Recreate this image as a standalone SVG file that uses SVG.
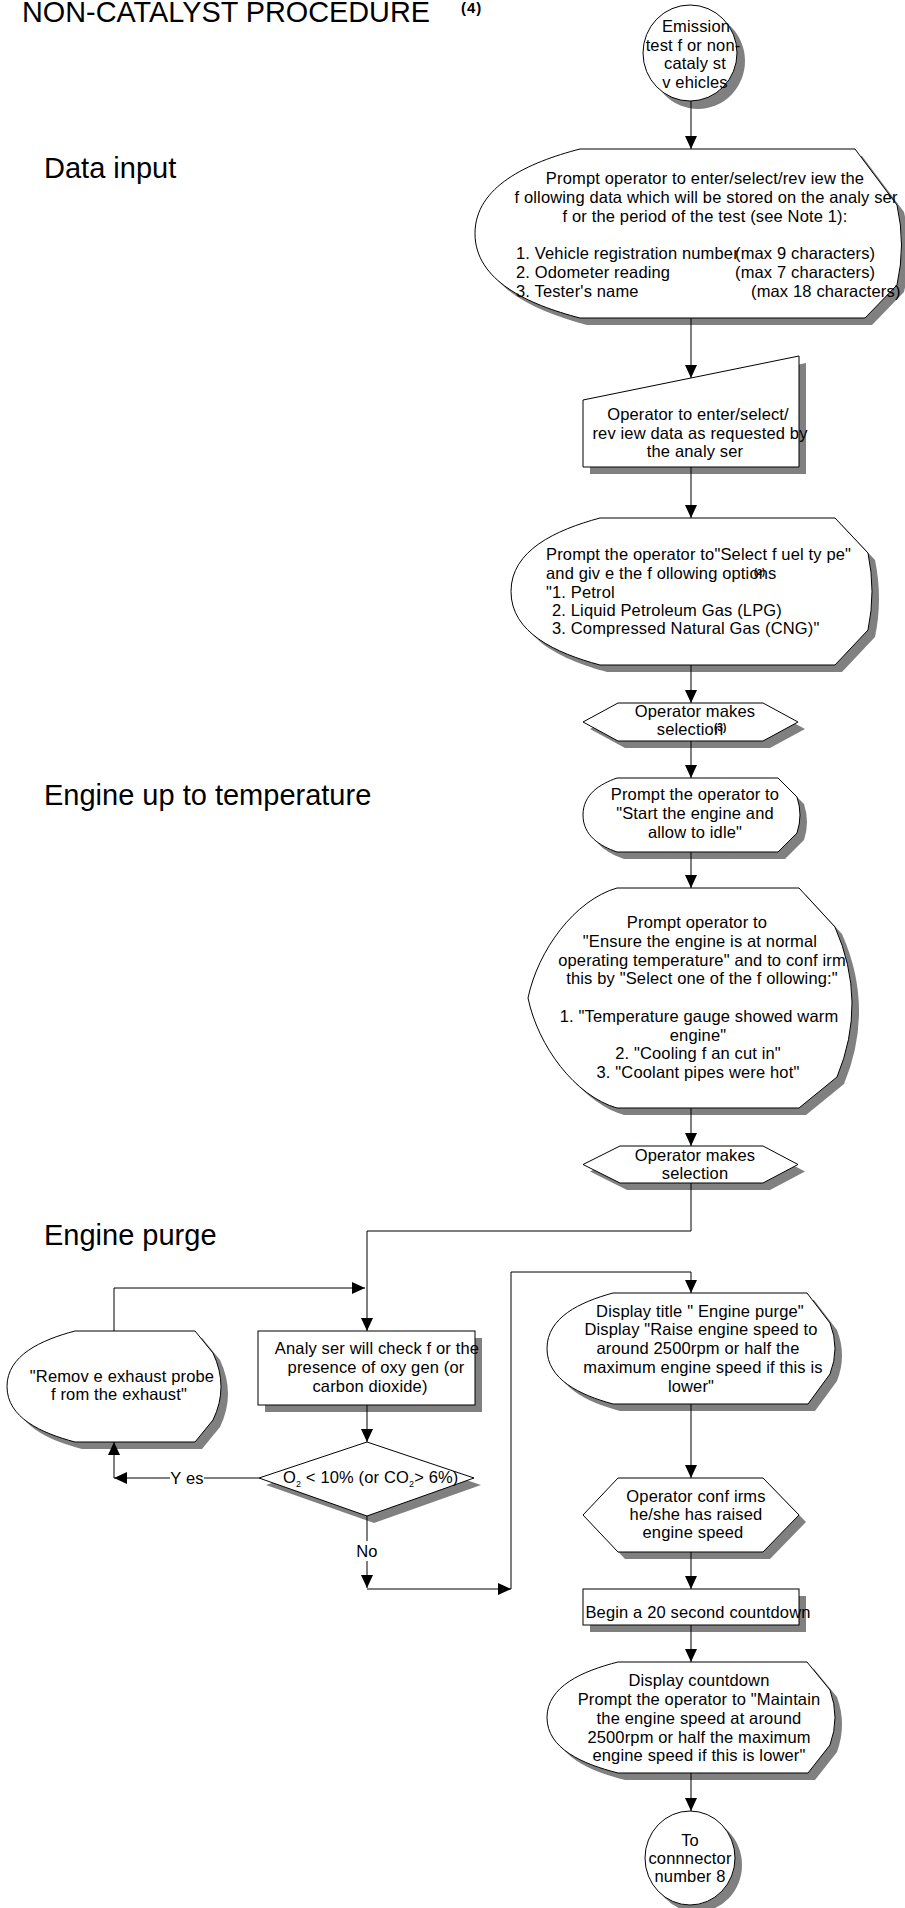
<svg xmlns="http://www.w3.org/2000/svg" width="905" height="1908" viewBox="0 0 905 1908">
  <style>
    .t { font-family: "Liberation Sans", Arial, sans-serif; font-size: 16.5px; letter-spacing: 0.15px; fill: #000; }
    .c { text-anchor: middle; }
    .head { font-family: "Liberation Sans", Arial, sans-serif; font-size: 29px; fill: #000; }
    .sup { font-family: "Liberation Sans", Arial, sans-serif; font-size: 9px; font-weight: bold; fill: #000; }
    .shape { fill: #fff; stroke: #000; stroke-width: 1; }
    .shadow { fill: #808080; stroke: none; }
    .conn { fill: none; stroke: #000; stroke-width: 1; }
    .lbl-bg { fill: #fff; }
  </style>
  <defs>
    <marker id="arrow" markerWidth="13" markerHeight="12" refX="13" refY="6" orient="auto" markerUnits="userSpaceOnUse">
      <path d="M0,0 L13,6 L0,12 Z" fill="#000"/>
    </marker>
    <!-- shape outlines, each drawn twice: a grey offset shadow and the white body -->
    <ellipse id="s-start" cx="690" cy="53" rx="47" ry="48"/>
    <path id="s-data" d="M580,149 L855,149 L897,205 Q906,245 897,285 L865,318 L580,318 C528,304.5 475,280.5 475,233.5 C475,186.5 528,162.5 580,149 Z"/>
    <path id="s-manual" d="M583,400 L799,356 L799,467 L583,467 Z"/>
    <path id="s-fuel" d="M600,518 L835,518 L868,553 Q876,591.5 868,630 L835,665 L600,665 C555.5,653 511,632.5 511,591.5 C511,550.5 555.5,530 600,518 Z"/>
    <path id="s-sel1" d="M618,703 L763,703 L798,722 L763,741 L618,741 L583,722 Z"/>
    <path id="s-start-eng" d="M617,778 L778,778 L797,797 Q803,815 797,833 L778,852 L617,852 C600,846 583,835.7 583,815 C583,794.3 600,784 617,778 Z"/>
    <path id="s-temp" d="M617,888 L799,888 L835,927 Q868,1002 837,1077 L799,1108 L617,1108 C575,1096 538,1046 528,998 C538,950 575,900 617,888 Z"/>
    <path id="s-sel2" d="M620,1146 L763,1146 L798,1164.5 L763,1183 L620,1183 L583,1164.5 Z"/>
    <rect id="s-check" x="258" y="1331" width="217" height="74"/>
    <path id="s-o2" d="M367,1442 L474,1478 L367,1516 L259,1478 Z"/>
    <path id="s-remove" d="M75,1331 L195,1331 L213,1353 Q229,1387 213,1420 L195,1442 L75,1442 C41,1433 7,1417.6 7,1386.5 C7,1355.4 41,1340 75,1331 Z"/>
    <path id="s-purge" d="M613,1293 L807,1293 L830,1323 Q840,1348.5 830,1374 L808,1404 L613,1404 C580,1395 547,1379.6 547,1348.5 C547,1317.4 580,1302 613,1293 Z"/>
    <path id="s-confirm" d="M618,1478 L763,1478 L799,1515 L763,1552 L618,1552 L583,1515 Z"/>
    <rect id="s-count" x="583" y="1589" width="216" height="36"/>
    <path id="s-maintain" d="M618,1662 L807,1662 L830,1690 Q840,1717.5 830,1745 L808,1773 L618,1773 C582.5,1764 547,1748.6 547,1717.5 C547,1686.4 582.5,1671 618,1662 Z"/>
    <ellipse id="s-end" cx="690" cy="1858" rx="45" ry="47"/>
  </defs>

  <!-- headings -->
  <g id="headings">
    <text class="head" x="22" y="22" style="font-size:30px" textLength="408" lengthAdjust="spacingAndGlyphs">NON-CATALYST PROCEDURE</text>
    <text class="sup" x="461" y="13" style="font-size:15px;letter-spacing:1px">(4)</text>
    <text class="head" x="44" y="178">Data input</text>
    <text class="head" x="44" y="805">Engine up to temperature</text>
    <text class="head" x="44" y="1245">Engine purge</text>
  </g>

  <g id="node-start">
    <use href="#s-start" class="shadow" transform="translate(8,8)"/>
    <use href="#s-start" class="shape"/>
    <text class="t c"><tspan x="696" y="32">Emission</tspan><tspan x="693" y="51">test f or non-</tspan><tspan x="695" y="69">cataly st</tspan><tspan x="695" y="88">v ehicles</tspan></text>
  </g>

  <g id="node-data-prompt">
    <use href="#s-data" class="shadow" transform="translate(7,7)"/>
    <use href="#s-data" class="shape"/>
    <text class="t c"><tspan x="705" y="184">Prompt operator to enter/select/rev iew the</tspan><tspan x="706" y="203">f ollowing data which will be stored on the analy ser</tspan><tspan x="705" y="222">f or the period of the test (see Note 1):</tspan></text>
    <text class="t"><tspan x="516" y="259">1. Vehicle registration number</tspan><tspan x="735" y="259">(max 9 characters)</tspan><tspan x="516" y="278">2. Odometer reading</tspan><tspan x="735" y="278">(max 7 characters)</tspan><tspan x="516" y="297">3. Tester's name</tspan><tspan x="751" y="297">(max 18 characters)</tspan></text>
  </g>

  <g id="node-data-entry">
    <use href="#s-manual" class="shadow" transform="translate(7,7)"/>
    <use href="#s-manual" class="shape"/>
    <text class="t c"><tspan x="698" y="420">Operator to enter/select/</tspan><tspan x="700" y="439">rev iew data as requested by</tspan><tspan x="695" y="457">the analy ser</tspan></text>
  </g>

  <g id="node-fuel-prompt">
    <use href="#s-fuel" class="shadow" transform="translate(7,7)"/>
    <use href="#s-fuel" class="shape"/>
    <text class="t"><tspan x="546" y="560">Prompt the operator to"Select f uel ty pe"</tspan><tspan x="546" y="579">and giv e the f ollowing options</tspan><tspan x="546" y="598">"1. Petrol</tspan><tspan x="552" y="616">2. Liquid Petroleum Gas (LPG)</tspan><tspan x="552" y="634">3. Compressed Natural Gas (CNG)"</tspan></text>
    <text class="sup" x="754" y="575">(2)</text>
  </g>

  <g id="node-fuel-select">
    <use href="#s-sel1" class="shadow" transform="translate(7,7)"/>
    <use href="#s-sel1" class="shape"/>
    <text class="t c"><tspan x="695" y="717">Operator makes</tspan><tspan x="690" y="735">selection</tspan></text>
    <text class="sup" x="714" y="731" style="font-size:10px">(3)</text>
  </g>

  <g id="node-start-engine">
    <use href="#s-start-eng" class="shadow" transform="translate(7,7)"/>
    <use href="#s-start-eng" class="shape"/>
    <text class="t c"><tspan x="695" y="800">Prompt the operator to</tspan><tspan x="695" y="819">"Start the engine and</tspan><tspan x="695" y="838">allow to idle"</tspan></text>
  </g>

  <g id="node-temperature">
    <use href="#s-temp" class="shadow" transform="translate(7,7)"/>
    <use href="#s-temp" class="shape"/>
    <text class="t c"><tspan x="697" y="928">Prompt operator to</tspan><tspan x="700" y="947">"Ensure the engine is at normal</tspan><tspan x="702" y="966">operating temperature" and to conf irm</tspan><tspan x="702" y="984">this by "Select one of the f ollowing:"</tspan><tspan x="699" y="1022">1. "Temperature gauge showed warm</tspan><tspan x="698" y="1041">engine"</tspan><tspan x="698" y="1059">2. "Cooling f an cut in"</tspan><tspan x="698" y="1078">3. "Coolant pipes were hot"</tspan></text>
  </g>

  <g id="node-temp-select">
    <use href="#s-sel2" class="shadow" transform="translate(7,7)"/>
    <use href="#s-sel2" class="shape"/>
    <text class="t c"><tspan x="695" y="1161">Operator makes</tspan><tspan x="695" y="1179">selection</tspan></text>
  </g>

  <g id="node-check">
    <use href="#s-check" class="shadow" transform="translate(7,7)"/>
    <use href="#s-check" class="shape"/>
    <text class="t c"><tspan x="377" y="1354">Analy ser will check f or the</tspan><tspan x="376" y="1373">presence of oxy gen (or</tspan><tspan x="370" y="1392">carbon dioxide)</tspan></text>
  </g>

  <g id="node-o2">
    <use href="#s-o2" class="shadow" transform="translate(7,7)"/>
    <use href="#s-o2" class="shape"/>
    <text class="t" x="283" y="1483">O<tspan font-size="9" dy="4">2</tspan><tspan dy="-4"> &lt; 10% (or CO</tspan><tspan font-size="9" dy="4">2</tspan><tspan dy="-4">&gt; 6%)</tspan></text>
  </g>

  <g id="node-remove">
    <use href="#s-remove" class="shadow" transform="translate(7,7)"/>
    <use href="#s-remove" class="shape"/>
    <text class="t c"><tspan x="122" y="1382">"Remov e exhaust probe</tspan><tspan x="119" y="1400">f rom the exhaust"</tspan></text>
  </g>

  <g id="node-purge">
    <use href="#s-purge" class="shadow" transform="translate(7,7)"/>
    <use href="#s-purge" class="shape"/>
    <text class="t c"><tspan x="700" y="1317">Display title " Engine purge"</tspan><tspan x="701" y="1335">Display "Raise engine speed to</tspan><tspan x="698" y="1354">around 2500rpm or half the</tspan><tspan x="703" y="1373">maximum engine speed if this is</tspan><tspan x="691" y="1392">lower"</tspan></text>
  </g>

  <g id="node-confirm">
    <use href="#s-confirm" class="shadow" transform="translate(7,7)"/>
    <use href="#s-confirm" class="shape"/>
    <text class="t c"><tspan x="696" y="1502">Operator conf irms</tspan><tspan x="696" y="1520">he/she has raised</tspan><tspan x="693" y="1538">engine speed</tspan></text>
  </g>

  <g id="node-countdown">
    <use href="#s-count" class="shadow" transform="translate(7,7)"/>
    <use href="#s-count" class="shape"/>
    <text class="t c" x="698" y="1618">Begin a 20 second countdown</text>
  </g>

  <g id="node-maintain">
    <use href="#s-maintain" class="shadow" transform="translate(7,7)"/>
    <use href="#s-maintain" class="shape"/>
    <text class="t c"><tspan x="699" y="1686">Display countdown</tspan><tspan x="699" y="1705">Prompt the operator to "Maintain</tspan><tspan x="699" y="1724">the engine speed at around</tspan><tspan x="699" y="1743">2500rpm or half the maximum</tspan><tspan x="699" y="1761">engine speed if this is lower"</tspan></text>
  </g>

  <g id="node-end">
    <use href="#s-end" class="shadow" transform="translate(7,7)"/>
    <use href="#s-end" class="shape"/>
    <text class="t c"><tspan x="690" y="1846">To</tspan><tspan x="690" y="1864">connnector</tspan><tspan x="690" y="1882">number 8</tspan></text>
  </g>

  <!-- connectors -->
  <g id="connectors">
    <path class="conn" d="M691,101 L691,149" marker-end="url(#arrow)"/>
    <path class="conn" d="M691,318 L691,378" marker-end="url(#arrow)"/>
    <path class="conn" d="M691,467 L691,518" marker-end="url(#arrow)"/>
    <path class="conn" d="M691,665 L691,703" marker-end="url(#arrow)"/>
    <path class="conn" d="M691,741 L691,778" marker-end="url(#arrow)"/>
    <path class="conn" d="M691,852 L691,888" marker-end="url(#arrow)"/>
    <path class="conn" d="M691,1108 L691,1146" marker-end="url(#arrow)"/>
    <path class="conn" d="M691,1183 L691,1231 L367,1231 L367,1331" marker-end="url(#arrow)"/>
    <path class="conn" d="M114,1331 L114,1288 L365,1288" marker-end="url(#arrow)"/>
    <path class="conn" d="M367,1405 L367,1442" marker-end="url(#arrow)"/>
    <path class="conn" d="M259,1478 L114,1478" marker-end="url(#arrow)"/>
    <path class="conn" d="M114,1478 L114,1442" marker-end="url(#arrow)"/>
    <rect class="lbl-bg" x="170" y="1468" width="34" height="20"/>
    <text class="t c" x="187" y="1484">Y es</text>
    <path class="conn" d="M367,1516 L367,1588" marker-end="url(#arrow)"/>
    <rect class="lbl-bg" x="355" y="1541" width="24" height="20"/>
    <text class="t c" x="367" y="1557">No</text>
    <path class="conn" d="M367,1589 L511,1589" marker-end="url(#arrow)"/>
    <path class="conn" d="M511,1589 L511,1272 L691,1272 L691,1293" marker-end="url(#arrow)"/>
    <path class="conn" d="M691,1404 L691,1478" marker-end="url(#arrow)"/>
    <path class="conn" d="M691,1552 L691,1589" marker-end="url(#arrow)"/>
    <path class="conn" d="M691,1625 L691,1662" marker-end="url(#arrow)"/>
    <path class="conn" d="M691,1773 L691,1811" marker-end="url(#arrow)"/>
  </g>
</svg>
